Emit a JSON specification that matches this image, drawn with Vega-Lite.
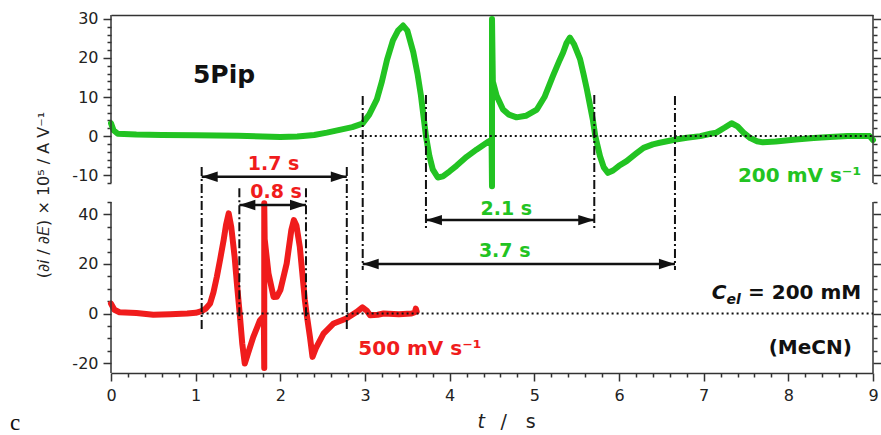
{
  "$schema": "https://vega.github.io/schema/vega-lite/v6.json",
  "autosize": {"type": "none"},
  "padding": {"left": 111, "top": 15, "right": 8, "bottom": 62},
  "width": 762,
  "height": 358,
  "background": "white",
  "config": {
    "view": {"stroke": null},
    "axis": {"domainColor": "#333333", "tickColor": "#333333", "domainWidth": 1.5, "tickWidth": 1.5, "labelFont": "DejaVu Sans", "labelFontSize": 16, "labelColor": "#222222", "grid": false, "title": null, "labelFlush": false},
    "text": {"font": "DejaVu Sans"}
  },
  "datasets": {
    "green": [
      {"t": 0.0, "v": 3.3}, {"t": 0.03, "v": 1.5}, {"t": 0.08, "v": 0.6}, {"t": 0.3, "v": 0.4}, {"t": 0.6, "v": 0.3}, {"t": 1.0, "v": 0.2}, {"t": 1.5, "v": 0.1}, {"t": 2.0, "v": -0.2}, {"t": 2.2, "v": -0.1}, {"t": 2.4, "v": 0.3}, {"t": 2.55, "v": 0.9}, {"t": 2.7, "v": 1.6}, {"t": 2.85, "v": 2.3}, {"t": 2.97, "v": 3.2}, {"t": 3.05, "v": 5.5}, {"t": 3.14, "v": 9.4}, {"t": 3.2, "v": 14}, {"t": 3.26, "v": 19.5}, {"t": 3.33, "v": 24.5}, {"t": 3.39, "v": 27}, {"t": 3.45, "v": 28.3}, {"t": 3.5, "v": 27}, {"t": 3.57, "v": 21.5}, {"t": 3.62, "v": 16}, {"t": 3.66, "v": 10.5}, {"t": 3.72, "v": 0}, {"t": 3.76, "v": -5}, {"t": 3.8, "v": -8.5}, {"t": 3.86, "v": -10.6}, {"t": 3.92, "v": -10.3}, {"t": 4.0, "v": -9}, {"t": 4.08, "v": -7.6}, {"t": 4.2, "v": -5.3}, {"t": 4.32, "v": -3.4}, {"t": 4.45, "v": -1.5}, {"t": 4.495, "v": -1.0}, {"t": 4.5, "v": -12.8}, {"t": 4.5, "v": 30}, {"t": 4.51, "v": 14}, {"t": 4.555, "v": 10.3}, {"t": 4.63, "v": 6.8}, {"t": 4.7, "v": 5.5}, {"t": 4.79, "v": 4.8}, {"t": 4.9, "v": 5.2}, {"t": 5.03, "v": 6.8}, {"t": 5.12, "v": 10}, {"t": 5.22, "v": 15.4}, {"t": 5.3, "v": 19.5}, {"t": 5.34, "v": 21.4}, {"t": 5.38, "v": 23.8}, {"t": 5.42, "v": 25.2}, {"t": 5.47, "v": 23.5}, {"t": 5.54, "v": 19.7}, {"t": 5.58, "v": 16}, {"t": 5.62, "v": 12}, {"t": 5.69, "v": 4.3}, {"t": 5.72, "v": 0}, {"t": 5.775, "v": -5.1}, {"t": 5.82, "v": -8}, {"t": 5.87, "v": -9.4}, {"t": 5.93, "v": -8.8}, {"t": 6.0, "v": -7.6}, {"t": 6.09, "v": -6.4}, {"t": 6.2, "v": -4.5}, {"t": 6.29, "v": -3}, {"t": 6.4, "v": -2.1}, {"t": 6.48, "v": -1.7}, {"t": 6.67, "v": -0.85}, {"t": 6.8, "v": -0.4}, {"t": 6.96, "v": 0}, {"t": 7.08, "v": 0.6}, {"t": 7.15, "v": 0.9}, {"t": 7.25, "v": 2.2}, {"t": 7.33, "v": 3.3}, {"t": 7.4, "v": 2.5}, {"t": 7.47, "v": 0.9}, {"t": 7.55, "v": -0.5}, {"t": 7.63, "v": -1.3}, {"t": 7.7, "v": -1.6}, {"t": 7.85, "v": -1.4}, {"t": 8.09, "v": -0.85}, {"t": 8.3, "v": -0.5}, {"t": 8.49, "v": -0.2}, {"t": 8.7, "v": 0}, {"t": 8.96, "v": 0}, {"t": 9.0, "v": -1}
    ],
    "red": [
      {"t": 0.0, "v": 4}, {"t": 0.04, "v": 1.5}, {"t": 0.1, "v": 0.5}, {"t": 0.3, "v": 0.2}, {"t": 0.5, "v": -0.5}, {"t": 0.7, "v": -0.3}, {"t": 0.9, "v": 0}, {"t": 1.0, "v": 0.3}, {"t": 1.07, "v": 1}, {"t": 1.12, "v": 2}, {"t": 1.17, "v": 4}, {"t": 1.21, "v": 8.5}, {"t": 1.25, "v": 14.8}, {"t": 1.29, "v": 22}, {"t": 1.33, "v": 29.6}, {"t": 1.36, "v": 36}, {"t": 1.39, "v": 40.4}, {"t": 1.42, "v": 35}, {"t": 1.46, "v": 22.9}, {"t": 1.49, "v": 11}, {"t": 1.52, "v": 0}, {"t": 1.55, "v": -12}, {"t": 1.58, "v": -20.2}, {"t": 1.61, "v": -17}, {"t": 1.68, "v": -9.5}, {"t": 1.76, "v": -2.7}, {"t": 1.805, "v": -1}, {"t": 1.81, "v": -22}, {"t": 1.81, "v": 44.5}, {"t": 1.815, "v": 30}, {"t": 1.86, "v": 16.2}, {"t": 1.92, "v": 6.7}, {"t": 1.96, "v": 6.8}, {"t": 2.0, "v": 9.4}, {"t": 2.075, "v": 20.2}, {"t": 2.13, "v": 33.7}, {"t": 2.16, "v": 37.7}, {"t": 2.19, "v": 35.5}, {"t": 2.23, "v": 26.9}, {"t": 2.29, "v": 5.4}, {"t": 2.31, "v": 0}, {"t": 2.35, "v": -9.5}, {"t": 2.38, "v": -17.5}, {"t": 2.42, "v": -14}, {"t": 2.51, "v": -8.1}, {"t": 2.63, "v": -4}, {"t": 2.78, "v": -2}, {"t": 2.9, "v": 0.6}, {"t": 2.97, "v": 2.5}, {"t": 3.02, "v": 1.2}, {"t": 3.06, "v": -0.7}, {"t": 3.15, "v": -0.5}, {"t": 3.22, "v": 0}, {"t": 3.4, "v": -0.3}, {"t": 3.55, "v": 0}, {"t": 3.59, "v": 0.5}, {"t": 3.6, "v": 2}, {"t": 3.61, "v": 0.8}
    ],
    "frame_top": [{"t": 0, "v": -12, "v2": 31}, {"t": 9, "v": -12, "v2": 31}],
    "frame_bot": [{"t": 0, "v": -24, "v2": 45}, {"t": 9, "v": -24, "v2": 45}],
    "zero_top": [{"t": 2.82, "t2": 9, "v": 0}],
    "zero_bot": [{"t": 1.07, "t2": 9, "v": 0}],
    "dashdot": [
      {"t": 1.071, "v": 59.1, "v2": -7.5}, {"t": 2.785, "v": 59.1, "v2": -7.5},
      {"t": 1.516, "v": 50.6, "v2": -2.6}, {"t": 2.303, "v": 50.6, "v2": -2.6},
      {"t": 2.973, "v": 87.8, "v2": 17.6}, {"t": 3.72, "v": 88.2, "v2": 34.5},
      {"t": 5.708, "v": 88.2, "v2": 34.5}, {"t": 6.661, "v": 87.8, "v2": 17.6}
    ],
    "arrows": [
      {"t": 1.071, "t2": 2.785, "v": 55.2}, {"t": 1.516, "t2": 2.303, "v": 43.8},
      {"t": 3.72, "t2": 5.708, "v": 37.7}, {"t": 2.973, "t2": 6.661, "v": 20.0}
    ],
    "lab_top_black": [{"t": 0.968, "v": 13.6, "txt": "5Pip"}],
    "lab_top_green": [{"t": 7.405, "v": -11.7, "txt": "200 mV s⁻¹"}],
    "lab_red_c": [{"t": 1.92, "v": 57.9, "txt": "1.7 s"}, {"t": 1.95, "v": 46.6, "txt": "0.8 s"}],
    "lab_red_l": [{"t": 2.921, "v": -16.8, "txt": "500 mV s⁻¹"}],
    "lab_green_c": [{"t": 4.67, "v": 39.7, "txt": "2.1 s"}, {"t": 4.65, "v": 22.9, "txt": "3.7 s"}],
    "lab_c": [{"t": 7.095, "v": 6.06, "txt": "C"}],
    "lab_el": [{"t": 7.27, "v": 4.0, "txt": "el"}],
    "lab_conc": [{"t": 7.524, "v": 6.06, "txt": "= 200 mM"}],
    "lab_mecn": [{"t": 8.75, "v": -16.2, "txt": "(MeCN)"}],
    "lab_xt": [{"t": 4.33, "v": -46.3, "txt": "t"}],
    "lab_xs": [{"t": 4.6, "v": -46.3, "txt": "/"}, {"t": 4.9, "v": -46.3, "txt": "s"}],
    "lab_ytitle": [{"t": -0.79, "v": 47.8, "txt": "(∂𝘪 / ∂𝘌) × 10⁵ / A V⁻¹"}],
    "lab_panel": [{"t": -1.193, "v": -47.2, "txt": "c"}]
  },
  "layer": [
    {
      "encoding": {
        "x": {"field": "t", "type": "quantitative", "scale": {"domain": [0, 9], "nice": false, "zero": false}, "axis": {"orient": "top", "ticks": false, "labels": false, "domain": true, "title": null}},
        "y": {"field": "v", "type": "quantitative", "scale": {"domain": [-60.63, 31], "nice": false, "zero": false},
          "axis": {"orient": "left", "domain": false, "values": [-12, -10, -8, -6, -4, -2, 0, 2, 4, 6, 8, 10, 12, 14, 16, 18, 20, 22, 24, 26, 28, 30], "labelExpr": "datum.value % 10 === 0 ? '' + datum.value : ''", "tickSize": {"condition": {"test": "datum.value % 10 === 0", "value": 8}, "value": 4}, "labelPadding": 5, "title": null}}
      },
      "layer": [
        {"data": {"name": "green"}, "mark": {"type": "line", "color": "#22c322", "strokeWidth": 6, "strokeJoin": "round", "strokeCap": "round"}, "encoding": {"order": {"value": null}}},
        {"data": {"name": "frame_top"}, "mark": {"type": "rule", "strokeWidth": 1.5, "color": "#333333"}, "encoding": {"y2": {"field": "v2"}}},
        {"data": {"name": "lab_top_black"}, "mark": {"type": "text", "fontWeight": "bold", "fontSize": 25, "align": "left", "baseline": "alphabetic", "color": "#111111"}, "encoding": {"text": {"field": "txt"}}},
        {"data": {"name": "lab_top_green"}, "mark": {"type": "text", "fontWeight": "bold", "fontSize": 20, "align": "left", "baseline": "alphabetic", "color": "#22c322"}, "encoding": {"text": {"field": "txt"}}}
      ]
    },
    {
      "data": {"name": "zero_top"},
      "mark": {"type": "rule", "strokeDash": [2, 3], "strokeWidth": 2, "color": "#111111"},
      "encoding": {
        "x": {"field": "t", "type": "quantitative", "scale": {"domain": [0, 9], "nice": false, "zero": false}, "axis": null},
        "x2": {"field": "t2"},
        "y": {"field": "v", "type": "quantitative", "scale": {"domain": [-60.63, 31], "nice": false, "zero": false},
          "axis": {"orient": "right", "domain": false, "values": [-12, -10, -8, -6, -4, -2, 0, 2, 4, 6, 8, 10, 12, 14, 16, 18, 20, 22, 24, 26, 28, 30], "labels": false, "tickSize": {"condition": {"test": "datum.value % 10 === 0", "value": 8}, "value": 4}, "title": null}}
      }
    },
    {
      "encoding": {
        "x": {"field": "t", "type": "quantitative", "scale": {"domain": [0, 9], "nice": false, "zero": false},
          "axis": {"orient": "bottom", "values": [0, 0.2, 0.4, 0.6, 0.8, 1, 1.2, 1.4, 1.6, 1.8, 2, 2.2, 2.4, 2.6, 2.8, 3, 3.2, 3.4, 3.6, 3.8, 4, 4.2, 4.4, 4.6, 4.8, 5, 5.2, 5.4, 5.6, 5.8, 6, 6.2, 6.4, 6.6, 6.8, 7, 7.2, 7.4, 7.6, 7.8, 8, 8.2, 8.4, 8.6, 8.8, 9], "labelExpr": "datum.value % 1 === 0 ? '' + datum.value : ''", "tickSize": {"condition": {"test": "datum.value % 1 === 0", "value": 8}, "value": 4}, "labelPadding": 6, "title": null}},
        "y": {"field": "v", "type": "quantitative", "scale": {"domain": [-24, 120.46], "nice": false, "zero": false},
          "axis": {"orient": "left", "domain": false, "values": [-20, -15, -10, -5, 0, 5, 10, 15, 20, 25, 30, 35, 40, 45], "labelExpr": "datum.value % 20 === 0 ? '' + datum.value : ''", "tickSize": {"condition": {"test": "datum.value % 20 === 0", "value": 8}, "value": 4}, "labelPadding": 5, "title": null}}
      },
      "layer": [
        {"data": {"name": "red"}, "mark": {"type": "line", "color": "#f01c1c", "strokeWidth": 6, "strokeJoin": "round", "strokeCap": "round"}, "encoding": {"order": {"value": null}}},
        {"data": {"name": "frame_bot"}, "mark": {"type": "rule", "strokeWidth": 1.5, "color": "#333333"}, "encoding": {"y2": {"field": "v2"}}},
        {"data": {"name": "dashdot"}, "mark": {"type": "rule", "strokeDash": [9, 3, 2, 3], "strokeWidth": 2, "color": "#111111"}, "encoding": {"y2": {"field": "v2"}}},
        {"data": {"name": "arrows"}, "mark": {"type": "rule", "strokeWidth": 2.5, "color": "#111111"}, "encoding": {"x2": {"field": "t2"}}},
        {"data": {"name": "arrows"}, "mark": {"type": "point", "filled": true, "opacity": 1, "size": 256, "color": "#111111", "shape": "M 0 0 L 2 -0.65 L 2 0.65 Z"}},
        {"data": {"name": "arrows"}, "mark": {"type": "point", "filled": true, "opacity": 1, "size": 256, "color": "#111111", "shape": "M 0 0 L -2 -0.65 L -2 0.65 Z"},
          "encoding": {"x": {"field": "t2", "type": "quantitative", "scale": {"domain": [0, 9], "nice": false, "zero": false}}}},
        {"data": {"name": "lab_red_c"}, "mark": {"type": "text", "fontWeight": "bold", "fontSize": 19, "align": "center", "baseline": "alphabetic", "color": "#f01c1c"}, "encoding": {"text": {"field": "txt"}}},
        {"data": {"name": "lab_red_l"}, "mark": {"type": "text", "fontWeight": "bold", "fontSize": 20, "align": "left", "baseline": "alphabetic", "color": "#f01c1c"}, "encoding": {"text": {"field": "txt"}}},
        {"data": {"name": "lab_green_c"}, "mark": {"type": "text", "fontWeight": "bold", "fontSize": 19, "align": "center", "baseline": "alphabetic", "color": "#22c322"}, "encoding": {"text": {"field": "txt"}}},
        {"data": {"name": "lab_c"}, "mark": {"type": "text", "fontWeight": "bold", "fontStyle": "italic", "fontSize": 20, "align": "left", "baseline": "alphabetic", "color": "#111111"}, "encoding": {"text": {"field": "txt"}}},
        {"data": {"name": "lab_el"}, "mark": {"type": "text", "fontWeight": "bold", "fontStyle": "italic", "fontSize": 14, "align": "left", "baseline": "alphabetic", "color": "#111111"}, "encoding": {"text": {"field": "txt"}}},
        {"data": {"name": "lab_conc"}, "mark": {"type": "text", "fontWeight": "bold", "fontSize": 20, "align": "left", "baseline": "alphabetic", "color": "#111111"}, "encoding": {"text": {"field": "txt"}}},
        {"data": {"name": "lab_mecn"}, "mark": {"type": "text", "fontWeight": "bold", "fontSize": 20, "align": "right", "baseline": "alphabetic", "color": "#111111"}, "encoding": {"text": {"field": "txt"}}},
        {"data": {"name": "lab_xt"}, "mark": {"type": "text", "fontStyle": "italic", "fontSize": 19, "align": "left", "baseline": "alphabetic", "color": "#222222"}, "encoding": {"text": {"field": "txt"}}},
        {"data": {"name": "lab_xs"}, "mark": {"type": "text", "fontSize": 19, "align": "left", "baseline": "alphabetic", "color": "#222222"}, "encoding": {"text": {"field": "txt"}}},
        {"data": {"name": "lab_ytitle"}, "mark": {"type": "text", "fontSize": 16, "angle": 270, "align": "center", "baseline": "middle", "color": "#222222"}, "encoding": {"text": {"field": "txt"}}},
        {"data": {"name": "lab_panel"}, "mark": {"type": "text", "font": "Liberation Serif", "fontSize": 23, "align": "left", "baseline": "alphabetic", "color": "#111111"}, "encoding": {"text": {"field": "txt"}}}
      ]
    },
    {
      "data": {"name": "zero_bot"},
      "mark": {"type": "rule", "strokeDash": [2, 3], "strokeWidth": 2, "color": "#111111"},
      "encoding": {
        "x": {"field": "t", "type": "quantitative", "scale": {"domain": [0, 9], "nice": false, "zero": false}, "axis": null},
        "x2": {"field": "t2"},
        "y": {"field": "v", "type": "quantitative", "scale": {"domain": [-24, 120.46], "nice": false, "zero": false},
          "axis": {"orient": "right", "domain": false, "values": [-20, -15, -10, -5, 0, 5, 10, 15, 20, 25, 30, 35, 40, 45], "labels": false, "tickSize": {"condition": {"test": "datum.value % 20 === 0", "value": 8}, "value": 4}, "title": null}}
      }
    }
  ],
  "resolve": {"scale": {"x": "independent", "y": "independent"}}
}
